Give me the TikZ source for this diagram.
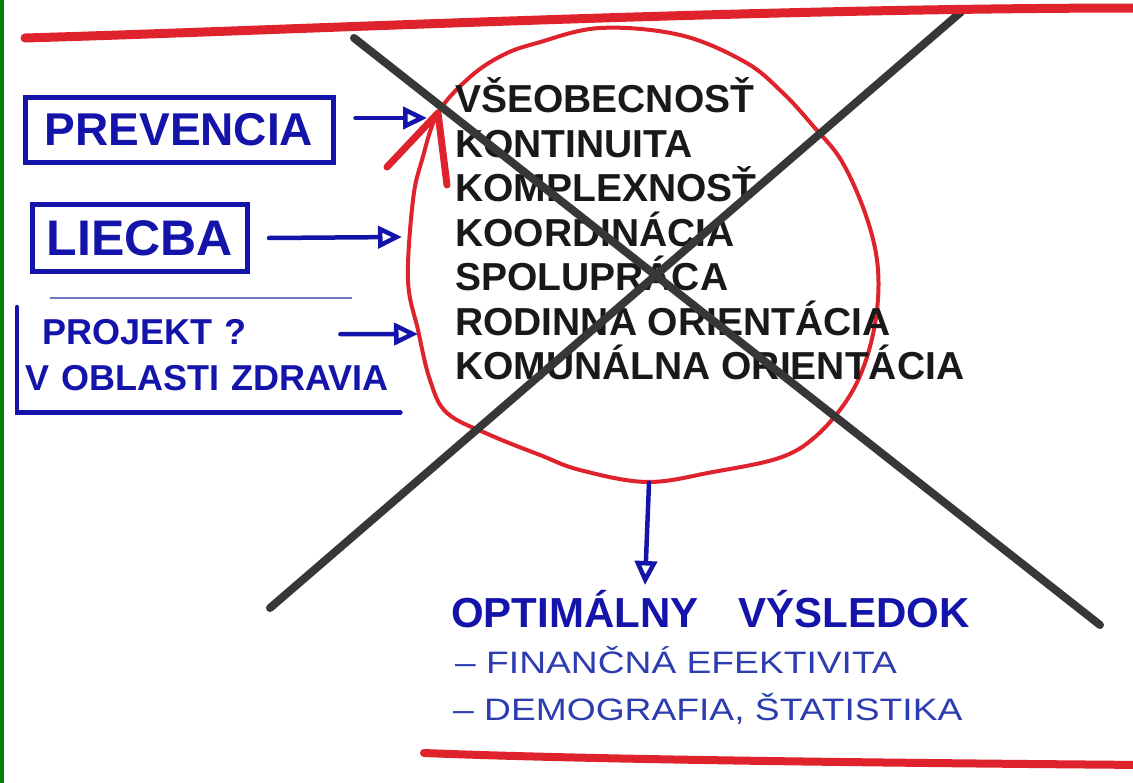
\documentclass[tikz,border=0pt]{standalone}
\usepackage{fontspec}
\setmainfont{Liberation Sans}
\newfontfamily\thinpen[FakeStretch=1.2]{Liberation Sans}
\usetikzlibrary{arrows.meta}
\definecolor{penblue}{RGB}{20,20,170}
\definecolor{thinblue}{RGB}{45,60,175}
\definecolor{rulegray}{RGB}{110,120,190}
\definecolor{penred}{RGB}{222,35,45}
\definecolor{pengray}{RGB}{55,55,55}
\definecolor{penblack}{RGB}{25,25,25}
\definecolor{edgegreen}{RGB}{0,128,0}

\begin{document}
\begin{tikzpicture}[x=1pt,y=-1pt]
      \tikzstyle{every node}+=[inner sep=0pt]
      \tikzstyle{bluebox}=[draw=penblue, line width=5pt, text=penblue]
      \tikzstyle{bluepen}=[penblue, line width=4.5pt, line cap=round]
      \tikzstyle{bluearrow}=[bluepen, -{Triangle[open,length=24pt,width=22pt,line width=4.5pt]}]
      \tikzstyle{redpen}=[penred, line cap=round, line join=round]
      \tikzstyle{listtext}=[text=penblack, font=\bfseries\fontsize{39}{39}\selectfont]
      \tikzstyle{subtext}=[text=thinblue, font=\thinpen\fontsize{31}{31}\selectfont]
      \tikzstyle{xline}=[pengray, line width=8pt, line cap=round]
      \useasboundingbox (0,0) rectangle (1133,783);
      \fill [white] (0,0) rectangle (1133,783);
      % left column
      \node [bluebox, minimum width=308pt, minimum height=65pt, font=\bfseries\fontsize{46}{46}\selectfont] (prev) at (179,130) {PREVENCIA};
      \node [bluebox, minimum width=215pt, minimum height=67pt, font=\bfseries\fontsize{50}{50}\selectfont] (liec) at (140,238) {LIECBA};
      \node [anchor=north west, minimum width=383pt, minimum height=114pt, text width=367pt, inner xsep=8pt, align=left, text=penblue, font=\bfseries\fontsize{36}{46}\selectfont] (proj) at (17,298) {\hspace*{17pt}PROJEKT ?\\V OBLASTI ZDRAVIA};
      \draw [rulegray, line width=1.5pt] ([xshift=33pt]proj.north west) -- ([xshift=-48pt]proj.north east);
      \draw [bluepen] ([yshift=-9pt]proj.north west) -- (proj.south west) -- (proj.south east);
      % circle of criteria
      \draw [redpen, line width=4pt] plot [smooth cycle, tension=0.6] coordinates {(438,113) (470,77) (503,55) (537,43) (600,28) (680,35) (745,62) (783,93) (814,127) (841,160) (864,210) (877,260) (877,310) (866,360) (847,400) (815,437) (779,458) (713,472) (647,482) (580,470) (540,455) (490,435) (447,413) (430,380) (418,330) (408,280) (413,200) (422,160)};
      \coordinate (cyctip) at (438,113);
      \draw [redpen, line width=7pt] ([shift={(-51,54)}]cyctip) -- (cyctip) -- ([shift={(9,72)}]cyctip);
      \foreach \crit [count=\i] in {VŠEOBECNOSŤ, KONTINUITA, KOMPLEXNOSŤ, KOORDINÁCIA, SPOLUPRÁCA, RODINNÁ ORIENTÁCIA, KOMUNÁLNA ORIENTÁCIA}
        \node [listtext, anchor=base west] (crit\i) at (455,{113+44.5*(\i-1)}) {\crit};
      % arrows into the circle
      \coordinate (inPrev) at (427,118);
      \coordinate (inLiec) at (402,237);
      \coordinate (inProj) at (418,334);
      \coordinate (outBot) at (649,483);
      \coordinate (resTop) at (645,585);
      \draw [bluearrow] ([shift={(20,-12)}]prev.east) -- (inPrev);
      \draw [bluearrow] ([xshift=19pt]liec.east) -- (inLiec);
      \draw [bluearrow] ([shift={(-60,-21)}]proj.east) -- (inProj);
      \draw [bluearrow] (outBot) -- (resTop);
      % result
      \node [anchor=base west, text=penblue, font=\bfseries\fontsize{42}{42}\selectfont] (result) at (451,627) {OPTIMÁLNY\hspace{40pt}VÝSLEDOK};
      \node [subtext, anchor=base west] (fin) at (455,673) {– FINANČNÁ EFEKTIVITA};
      \node [subtext, anchor=base west] (demo) at (453,720) {– DEMOGRAFIA, ŠTATISTIKA};
      % crossing out
      \draw [xline] (354,38) -- (1100,625);
      \draw [xline] (961,12) -- (270,608);
      % marker rules
      \draw [redpen, line width=9pt] (25,38) .. controls (300,30) and (750,8) .. (1145,8);
      \draw [redpen, line width=8pt] (424,753) .. controls (600,760) and (900,763) .. (1145,765);
      \fill [edgegreen] (0,0) rectangle (4,783);
\end{tikzpicture}
\end{document}
